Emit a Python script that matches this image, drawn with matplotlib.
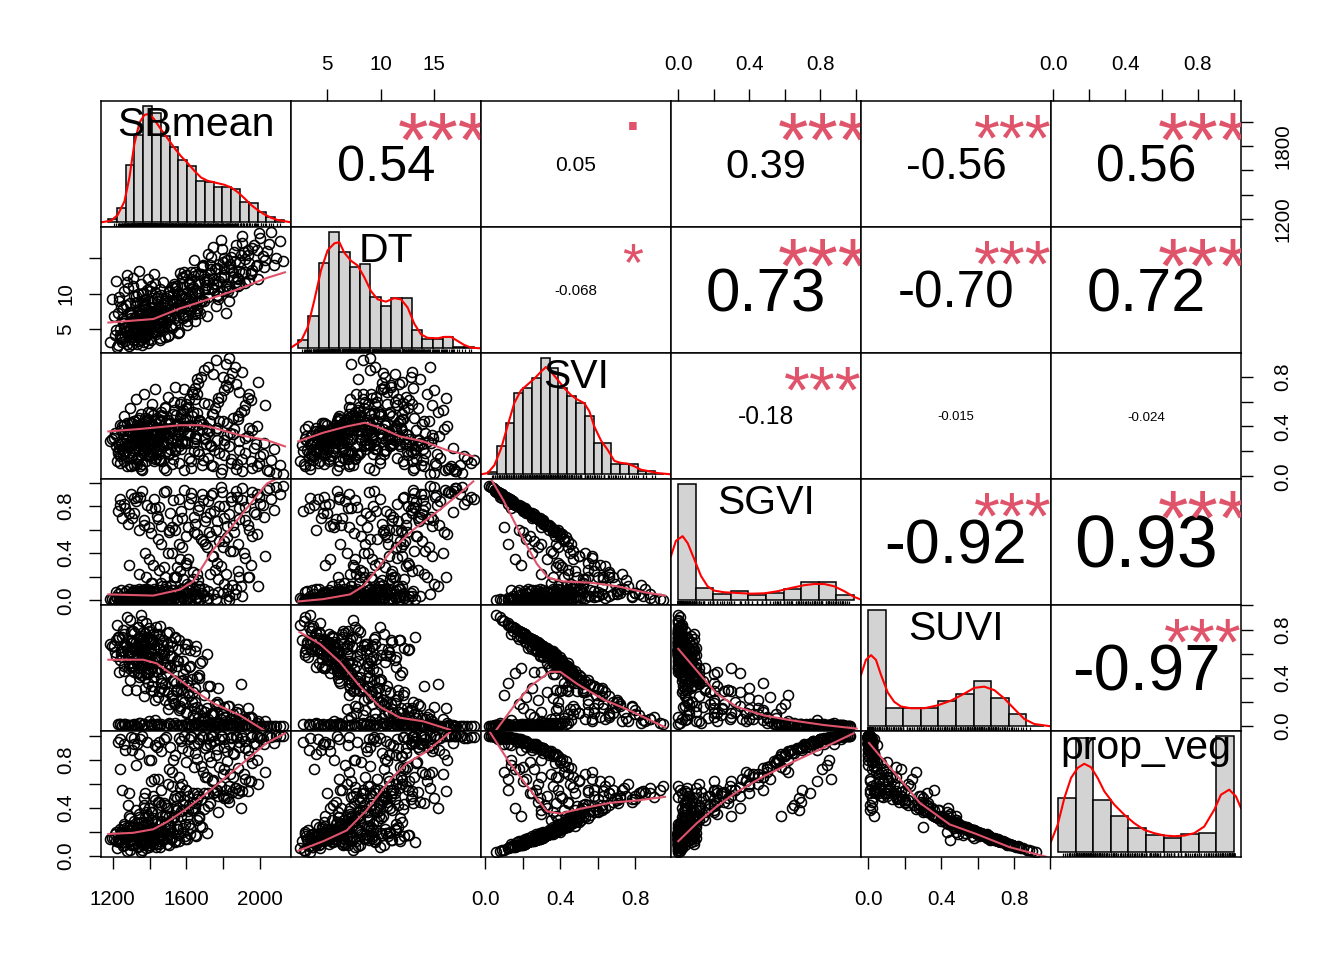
import numpy as np
import matplotlib
matplotlib.use("Agg")
import matplotlib.pyplot as plt
from matplotlib.textpath import TextPath
from matplotlib.font_manager import FontProperties

plt.rcParams['font.family'] = ['Liberation Sans', 'DejaVu Sans']

var_names = ['SBmean', 'DT', 'SVI', 'SGVI', 'SUVI', 'prop_veg']

# observaciones (una fila = un sitio), leidas a ojo de las nubes de puntos
SBmean = [1185, 1210, 1225, 1240, 1250, 1262, 1270, 1278, 1285, 1292,
          1300, 1305, 1312, 1318, 1322, 1328, 1333, 1338, 1342, 1346,
          1350, 1354, 1357, 1360, 1364, 1367, 1370, 1373, 1376, 1379,
          1382, 1386, 1390, 1394, 1398, 1402, 1406, 1411, 1416, 1421,
          1426, 1431, 1437, 1443, 1449, 1455, 1462, 1469, 1476, 1483,
          1490, 1498, 1506, 1514, 1523, 1532, 1541, 1550, 1560, 1570,
          1581, 1593, 1605, 1618, 1632, 1646, 1661, 1677, 1694, 1712, 1235, 1275,
          1262, 1305, 1348, 1395, 1452, 1488, 1512, 1537, 1558, 1575,
          1596, 1614, 1628, 1645, 1662, 1678, 1693, 1708, 1722, 1737,
          1751, 1765, 1779, 1792, 1806, 1819, 1833, 1846, 1860, 1874,
          1889, 1903, 1918, 1934, 1950, 1967, 1985, 2003, 2022, 2042,
          2063, 2086, 2110, 2128, 1430, 1228, 1318,
          1342, 1378, 1415, 1447, 1480, 1508, 1545, 1578, 1610, 1640, 1672,
          1702, 1735, 1770, 1805, 1840, 1880, 1398, 1462, 1290, 1525,
          1720, 1760, 1798, 1835, 1870, 1905, 1660, 1585, 1940, 1990, 1815, 1745,
          1205, 1232, 1248, 1257, 1266, 1281, 1288, 1296, 1303, 1309,
          1315, 1320, 1326, 1331, 1336, 1340, 1344, 1348, 1352, 1355,
          1358, 1362, 1365, 1368, 1371, 1374, 1377, 1380, 1384, 1388,
          1392, 1396, 1400, 1404, 1409, 1413, 1418, 1423, 1428, 1434,
          1440, 1446, 1452, 1459, 1466, 1473, 1480, 1487, 1495, 1503,
          1511, 1519, 1528, 1537, 1547, 1557, 1568, 1580, 1592, 1606,
          1620, 1636, 1652, 1669, 1687, 1256, 1298, 1334, 1366, 1410,
          1240, 1288, 1330, 1372, 1410, 1445, 1478, 1505, 1530, 1552,
          1572, 1590, 1608, 1624, 1641, 1657, 1672, 1686, 1700, 1716,
          1731, 1747, 1762, 1777, 1791, 1808, 1824, 1841, 1857, 1872,
          1887, 1904, 1921, 1940, 1958, 1978, 1998, 2020, 2048, 2075,
          1420, 1465, 1498, 1535, 1563, 1598, 1630, 1660, 1690, 1718,
          1745, 1772, 1800, 1828, 1856, 1885, 1915, 1950, 1985, 2030,
          1380, 1450, 1515, 1580, 1645,
          1215, 1229, 1244, 1259, 1273, 1286, 1297, 1307, 1316, 1324,
          1332, 1339, 1345, 1351, 1356, 1361, 1366, 1372, 1378, 1385,
          1391, 1397, 1403, 1410, 1417, 1425, 1433, 1442, 1451, 1461,
          1471, 1482, 1494, 1507, 1521, 1536, 1553, 1571, 1591, 1614,
          1520, 1548, 1566, 1583, 1601, 1617, 1634, 1650, 1666, 1681,
          1697, 1712, 1727, 1742, 1757, 1773, 1788, 1803, 1818, 1834,
          1850, 1866, 1882, 1899, 1917, 1936, 1956, 1490, 1545, 1611,
          1238, 1252, 1268, 1283, 1299, 1313, 1327, 1341, 1357, 1372, 1389, 1406, 1424, 1443, 1463,
          1195, 1218, 1246, 1263, 1279, 1294, 1310, 1327, 1343, 1359, 1375, 1393, 1412, 1432, 1455]
DT = [3.1, 4.2, 2.4, 5.0, 3.8, 6.1, 4.6, 2.9, 5.4, 7.2,
      4.0, 5.8, 3.5, 6.6, 4.9, 8.3, 5.2, 3.3, 6.0, 4.4,
      5.6, 7.0, 2.8, 5.1, 6.3, 4.7, 9.1, 5.5, 3.9, 6.8,
      5.3, 4.1, 7.6, 5.9, 3.6, 6.4, 5.0, 8.8, 4.5, 6.2,
      5.7, 10.2, 4.3, 6.9, 5.4, 3.7, 7.4, 6.0, 4.8, 8.0,
      5.8, 9.6, 4.2, 6.7, 5.1, 7.9, 11.0, 6.3, 4.6, 8.5,
      6.5, 9.3, 5.5, 7.7, 10.6, 6.1, 8.9, 7.3, 12.1, 6.8, 8.9, 11.6,
      5.2, 4.4, 6.1, 5.6, 7.8, 9.4, 8.6, 10.8, 9.9, 12.4,
      8.2, 11.5, 13.1, 10.1, 12.8, 9.0, 14.0, 11.2, 12.0, 15.2,
      10.5, 13.6, 11.8, 16.3, 12.6, 14.8, 10.9, 13.3, 15.9, 12.2,
      14.4, 17.1, 13.0, 15.5, 12.9, 16.8, 14.1, 17.8, 13.7, 16.0,
      18.7, 15.0, 17.4, 14.6, 6.9, 2.7, 3.4,
      7.1, 8.4, 6.6, 9.7, 7.5, 10.3, 8.1, 11.4, 9.2, 12.5, 8.7,
      10.7, 13.4, 9.8, 12.3, 14.2, 11.1, 5.3, 6.2, 4.8, 7.0,
      9.5, 8.3, 10.4, 9.0, 11.7, 12.9, 7.9, 10.0, 14.3, 12.0, 7.2, 11.3,
      6.8, 9.5, 3.2, 7.9, 5.3, 10.8, 2.6, 7.4, 4.5, 12.2,
      3.9, 8.6, 5.7, 2.9, 9.9, 6.2, 4.1, 7.7, 3.4, 11.3,
      6.6, 4.8, 8.1, 5.0, 3.7, 9.2, 6.0, 4.3, 7.1, 5.5,
      3.0, 6.9, 10.4, 5.2, 8.0, 4.6, 6.4, 12.7, 5.9, 7.6,
      4.9, 9.0, 6.3, 3.5, 7.2, 11.7, 5.4, 8.4, 6.7, 4.0,
      7.8, 5.6, 10.0, 6.5, 8.9, 4.4, 12.9, 7.0, 9.5, 6.1,
      8.2, 10.9, 7.3, 11.8, 9.1, 5.9, 7.0, 8.8, 10.1, 11.0,
      3.8, 5.0, 4.7, 6.3, 7.2, 5.8, 8.9, 10.2, 7.6, 11.1,
      9.6, 13.0, 8.7, 12.1, 14.7, 10.4, 9.3, 13.8, 11.6, 15.6,
      12.9, 16.6, 11.4, 14.2, 17.6, 13.5, 10.6, 15.1, 12.4, 16.9,
      13.2, 18.1, 14.9, 11.9, 16.4, 13.9, 18.5, 15.3, 17.0, 14.0,
      7.4, 9.8, 6.8, 11.3, 8.5, 12.6, 9.9, 7.7, 13.9, 10.6,
      12.0, 9.2, 14.5, 10.3, 13.1, 11.2, 15.8, 12.7, 16.2, 14.8,
      6.0, 8.1, 5.4, 9.4, 7.1,
      4.9, 7.3, 3.6, 5.8, 8.4, 4.2, 6.5, 2.9, 9.7, 5.1,
      6.9, 3.8, 7.8, 5.4, 4.4, 8.9, 6.2, 3.1, 5.7, 10.5,
      4.7, 7.1, 5.9, 3.4, 8.1, 6.6, 4.5, 9.3, 5.2, 7.5,
      6.0, 3.9, 8.7, 6.4, 10.9, 5.5, 7.9, 9.8, 6.8, 11.4,
      8.8, 10.4, 7.6, 12.2, 9.5, 11.6, 8.3, 13.0, 10.1, 12.8,
      9.0, 11.9, 14.1, 10.8, 13.5, 9.7, 12.4, 15.0, 11.0, 13.7,
      10.2, 14.6, 12.1, 15.4, 11.5, 16.1, 13.3, 7.2, 9.1, 7.0,
      4.1, 6.4, 3.3, 5.5, 7.0, 4.6, 6.7, 3.9, 5.9, 8.2, 4.8, 7.5, 6.1, 9.0, 5.3,
      9.2, 11.8, 8.1, 10.3, 12.6, 8.7, 11.1, 9.6, 13.2, 10.0, 8.5, 12.0, 9.4, 11.4, 10.7]
SVI = [0.28, 0.35, 0.12, 0.41, 0.22, 0.48, 0.30, 0.08, 0.38, 0.55,
       0.26, 0.33, 0.18, 0.44, 0.31, 0.62, 0.36, 0.15, 0.40, 0.27,
       0.34, 0.50, 0.10, 0.29, 0.37, 0.24, 0.66, 0.32, 0.20, 0.45,
       0.35, 0.23, 0.52, 0.39, 0.16, 0.42, 0.30, 0.58, 0.28, 0.36,
       0.33, 0.70, 0.21, 0.47, 0.31, 0.13, 0.49, 0.38, 0.25, 0.56,
       0.34, 0.64, 0.19, 0.43, 0.29, 0.53, 0.72, 0.40, 0.24, 0.60,
       0.37, 0.46, 0.27, 0.41, 0.68, 0.32, 0.51, 0.44, 0.59, 0.35, 0.26, 0.43,
       0.12, 0.25, 0.08, 0.30, 0.18, 0.05, 0.22, 0.34, 0.11, 0.27,
       0.40, 0.15, 0.07, 0.31, 0.20, 0.42, 0.13, 0.26, 0.36, 0.09,
       0.21, 0.29, 0.44, 0.06, 0.17, 0.33, 0.24, 0.14, 0.38, 0.10,
       0.28, 0.04, 0.19, 0.32, 0.12, 0.23, 0.08, 0.16, 0.27, 0.05,
       0.13, 0.03, 0.09, 0.02, 0.14, 0.20, 0.09,
       0.30, 0.25, 0.35, 0.22, 0.38, 0.18, 0.42, 0.28, 0.33, 0.20, 0.45,
       0.30, 0.24, 0.39, 0.26, 0.35, 0.48, 0.16, 0.12, 0.19, 0.10,
       0.88, 0.93, 0.80, 0.95, 0.74, 0.84, 0.78, 0.70, 0.66, 0.76, 0.90, 0.82,
       0.31, 0.22, 0.40, 0.17, 0.27, 0.36, 0.25, 0.09, 0.43, 0.30,
       0.20, 0.34, 0.29, 0.38, 0.14, 0.45, 0.33, 0.24, 0.06, 0.39,
       0.28, 0.42, 0.19, 0.35, 0.26, 0.31, 0.47, 0.12, 0.37, 0.23,
       0.32, 0.18, 0.41, 0.27, 0.52, 0.36, 0.21, 0.30, 0.44, 0.15,
       0.29, 0.39, 0.24, 0.33, 0.48, 0.26, 0.35, 0.55, 0.20, 0.31,
       0.37, 0.27, 0.50, 0.22, 0.42, 0.33, 0.58, 0.40, 0.28, 0.46,
       0.34, 0.52, 0.30, 0.44, 0.38, 0.36, 0.28, 0.41, 0.33, 0.25,
       0.16, 0.24, 0.10, 0.33, 0.20, 0.28, 0.07, 0.38, 0.14, 0.30,
       0.22, 0.05, 0.35, 0.12, 0.27, 0.41, 0.18, 0.09, 0.31, 0.15,
       0.25, 0.08, 0.37, 0.19, 0.03, 0.29, 0.43, 0.11, 0.34, 0.06,
       0.21, 0.14, 0.31, 0.39, 0.07, 0.26, 0.11, 0.18, 0.04, 0.22,
       0.40, 0.52, 0.45, 0.60, 0.38, 0.55, 0.48, 0.66, 0.42, 0.58,
       0.50, 0.63, 0.44, 0.72, 0.47, 0.68, 0.53, 0.61, 0.40, 0.57,
       0.36, 0.44, 0.39, 0.51, 0.62,
       0.33, 0.19, 0.27, 0.41, 0.24, 0.36, 0.15, 0.30, 0.44, 0.22,
       0.38, 0.28, 0.47, 0.17, 0.32, 0.25, 0.40, 0.21, 0.35, 0.29,
       0.43, 0.18, 0.31, 0.26, 0.49, 0.23, 0.37, 0.34, 0.14, 0.45,
       0.28, 0.39, 0.26, 0.42, 0.31, 0.20, 0.36, 0.50, 0.27, 0.40,
       0.36, 0.41, 0.47, 0.53, 0.58, 0.62, 0.66, 0.71, 0.75, 0.80,
       0.85, 0.39, 0.44, 0.50, 0.55, 0.60, 0.64, 0.69, 0.73, 0.78,
       0.83, 0.88, 0.46, 0.52, 0.57, 0.63, 0.37, 0.43, 0.49, 0.56,
       0.11, 0.27, 0.19, 0.32, 0.08, 0.23, 0.14, 0.36, 0.05, 0.29, 0.17, 0.40, 0.12, 0.25, 0.34,
       0.30, 0.24, 0.37, 0.20, 0.33, 0.43, 0.27, 0.39, 0.22, 0.35, 0.29, 0.46, 0.25, 0.38, 0.32]
SGVI = [0.01, 0.00, 0.02, 0.01, 0.00, 0.03, 0.00, 0.01, 0.02, 0.04,
        0.00, 0.01, 0.00, 0.02, 0.01, 0.05, 0.00, 0.01, 0.00, 0.02,
        0.01, 0.03, 0.00, 0.00, 0.02, 0.01, 0.04, 0.00, 0.00, 0.01,
        0.02, 0.00, 0.06, 0.01, 0.00, 0.02, 0.00, 0.03, 0.01, 0.00,
        0.02, 0.05, 0.00, 0.01, 0.00, 0.01, 0.03, 0.00, 0.02, 0.04,
        0.00, 0.02, 0.01, 0.00, 0.03, 0.02, 0.06, 0.00, 0.01, 0.04,
        0.02, 0.00, 0.01, 0.03, 0.05, 0.00, 0.02, 0.01, 0.04, 0.00, 0.00, 0.03,
        0.82, 0.70, 0.88, 0.62, 0.79, 0.93, 0.74, 0.60, 0.86, 0.70,
        0.55, 0.82, 0.91, 0.65, 0.77, 0.52, 0.85, 0.71, 0.58, 0.89,
        0.76, 0.67, 0.50, 0.92, 0.80, 0.63, 0.73, 0.84, 0.58, 0.88,
        0.69, 0.95, 0.79, 0.64, 0.86, 0.75, 0.90, 0.82, 0.71, 0.94,
        0.86, 0.96, 0.90, 0.97, 0.78, 0.76, 0.87,
        0.22, 0.40, 0.15, 0.52, 0.28, 0.60, 0.20, 0.45, 0.35, 0.58, 0.12,
        0.48, 0.55, 0.32, 0.50, 0.42, 0.25, 0.35, 0.48, 0.30, 0.62,
        0.02, 0.01, 0.06, 0.00, 0.10, 0.04, 0.03, 0.08, 0.20, 0.12, 0.00, 0.05,
        0.00, 0.02, 0.01, 0.00, 0.03, 0.00, 0.01, 0.00, 0.06, 0.02,
        0.01, 0.00, 0.04, 0.00, 0.02, 0.08, 0.00, 0.01, 0.00, 0.03,
        0.00, 0.05, 0.01, 0.00, 0.02, 0.00, 0.10, 0.00, 0.01, 0.00,
        0.01, 0.00, 0.03, 0.00, 0.15, 0.02, 0.00, 0.04, 0.07, 0.01,
        0.00, 0.02, 0.01, 0.00, 0.12, 0.00, 0.03, 0.20, 0.00, 0.02,
        0.01, 0.00, 0.09, 0.02, 0.05, 0.00, 0.25, 0.03, 0.01, 0.14,
        0.00, 0.18, 0.02, 0.10, 0.06, 0.00, 0.01, 0.04, 0.00, 0.02,
        0.81, 0.74, 0.88, 0.64, 0.78, 0.69, 0.92, 0.58, 0.85, 0.68,
        0.76, 0.94, 0.62, 0.87, 0.71, 0.56, 0.80, 0.90, 0.67, 0.84,
        0.74, 0.91, 0.60, 0.80, 0.96, 0.70, 0.54, 0.88, 0.64, 0.93,
        0.78, 0.85, 0.68, 0.60, 0.92, 0.73, 0.88, 0.81, 0.95, 0.77,
        0.30, 0.15, 0.40, 0.20, 0.48, 0.32, 0.12, 0.22, 0.50, 0.08,
        0.38, 0.18, 0.45, 0.10, 0.42, 0.20, 0.40, 0.30, 0.56, 0.38,
        0.20, 0.26, 0.12, 0.10, 0.05,
        0.07, 0.05, 0.09, 0.06, 0.08, 0.10, 0.04, 0.07, 0.09, 0.06,
        0.08, 0.05, 0.10, 0.07, 0.04, 0.09, 0.06, 0.08, 0.05, 0.10,
        0.07, 0.09, 0.06, 0.04, 0.08, 0.10, 0.05, 0.07, 0.09, 0.06,
        0.08, 0.10, 0.04, 0.07, 0.09, 0.05, 0.08, 0.10, 0.06, 0.09,
        0.40, 0.28, 0.35, 0.18, 0.30, 0.12, 0.24, 0.08, 0.17, 0.06,
        0.10, 0.45, 0.22, 0.38, 0.26, 0.07, 0.29, 0.14, 0.22, 0.04,
        0.13, 0.05, 0.48, 0.12, 0.36, 0.20, 0.55, 0.12, 0.20, 0.09,
        0.86, 0.70, 0.78, 0.65, 0.90, 0.74, 0.84, 0.60, 0.93, 0.68, 0.81, 0.57, 0.86, 0.72, 0.63,
        0.01, 0.03, 0.00, 0.02, 0.01, 0.04, 0.00, 0.02, 0.01, 0.03, 0.00, 0.05, 0.01, 0.02, 0.00]
SUVI = [0.68, 0.61, 0.84, 0.55, 0.74, 0.46, 0.66, 0.90, 0.57, 0.38,
        0.71, 0.52, 0.79, 0.50, 0.64, 0.30, 0.60, 0.82, 0.48, 0.69,
        0.62, 0.42, 0.87, 0.58, 0.56, 0.72, 0.25, 0.63, 0.77, 0.44,
        0.59, 0.73, 0.36, 0.54, 0.81, 0.47, 0.61, 0.33, 0.70, 0.53,
        0.65, 0.22, 0.76, 0.45, 0.57, 0.83, 0.40, 0.60, 0.67, 0.35,
        0.49, 0.28, 0.78, 0.51, 0.66, 0.37, 0.18, 0.55, 0.71, 0.31,
        0.43, 0.47, 0.68, 0.50, 0.20, 0.62, 0.41, 0.52, 0.26, 0.60, 0.45, 0.30,
        0.02, 0.01, 0.03, 0.04, 0.00, 0.01, 0.02, 0.03, 0.00, 0.01,
        0.02, 0.00, 0.01, 0.03, 0.00, 0.04, 0.01, 0.00, 0.02, 0.00,
        0.01, 0.00, 0.03, 0.01, 0.00, 0.02, 0.00, 0.01, 0.00, 0.00,
        0.02, 0.00, 0.01, 0.00, 0.00, 0.01, 0.00, 0.00, 0.00, 0.00,
        0.00, 0.00, 0.00, 0.00, 0.05, 0.02, 0.01,
        0.45, 0.32, 0.48, 0.24, 0.30, 0.18, 0.36, 0.22, 0.28, 0.15, 0.40,
        0.12, 0.10, 0.20, 0.08, 0.06, 0.14, 0.44, 0.36, 0.48, 0.26,
        0.06, 0.03, 0.10, 0.02, 0.12, 0.05, 0.16, 0.20, 0.08, 0.04, 0.08, 0.09,
        0.66, 0.74, 0.57, 0.80, 0.68, 0.61, 0.71, 0.88, 0.49, 0.65,
        0.77, 0.63, 0.65, 0.59, 0.82, 0.44, 0.64, 0.73, 0.92, 0.55,
        0.69, 0.50, 0.78, 0.62, 0.70, 0.66, 0.40, 0.85, 0.59, 0.74,
        0.64, 0.79, 0.53, 0.70, 0.30, 0.60, 0.76, 0.64, 0.46, 0.82,
        0.68, 0.56, 0.72, 0.64, 0.36, 0.71, 0.59, 0.22, 0.77, 0.63,
        0.58, 0.70, 0.38, 0.74, 0.50, 0.64, 0.15, 0.54, 0.68, 0.37,
        0.63, 0.28, 0.66, 0.42, 0.54, 0.62, 0.69, 0.52, 0.64, 0.71,
        0.02, 0.01, 0.00, 0.02, 0.01, 0.02, 0.00, 0.03, 0.00, 0.01,
        0.01, 0.00, 0.02, 0.00, 0.01, 0.03, 0.01, 0.00, 0.01, 0.00,
        0.00, 0.01, 0.02, 0.00, 0.00, 0.01, 0.02, 0.00, 0.01, 0.00,
        0.00, 0.00, 0.01, 0.00, 0.00, 0.00, 0.00, 0.00, 0.00, 0.00,
        0.29, 0.32, 0.14, 0.19, 0.13, 0.12, 0.39, 0.11, 0.07, 0.33,
        0.11, 0.18, 0.10, 0.17, 0.10, 0.11, 0.06, 0.08, 0.03, 0.04,
        0.43, 0.29, 0.48, 0.38, 0.32,
        0.58, 0.74, 0.62, 0.50, 0.66, 0.52, 0.79, 0.61, 0.45, 0.70,
        0.52, 0.66, 0.41, 0.75, 0.63, 0.64, 0.53, 0.70, 0.58, 0.59,
        0.48, 0.72, 0.61, 0.69, 0.41, 0.65, 0.56, 0.57, 0.76, 0.47,
        0.62, 0.49, 0.68, 0.49, 0.58, 0.73, 0.54, 0.37, 0.64, 0.49,
        0.23, 0.30, 0.17, 0.28, 0.11, 0.25, 0.09, 0.20, 0.07, 0.13,
        0.04, 0.15, 0.33, 0.11, 0.18, 0.32, 0.06, 0.16, 0.04, 0.17,
        0.03, 0.06, 0.05, 0.35, 0.06, 0.15, 0.07, 0.44, 0.29, 0.34,
        0.02, 0.01, 0.02, 0.01, 0.01, 0.02, 0.00, 0.03, 0.01, 0.02, 0.00, 0.02, 0.01, 0.02, 0.02,
        0.66, 0.71, 0.60, 0.76, 0.63, 0.50, 0.70, 0.56, 0.74, 0.59, 0.68, 0.45, 0.72, 0.57, 0.64]
prop_veg = [0.14, 0.18, 0.06, 0.22, 0.11, 0.25, 0.15, 0.04, 0.21, 0.31,
            0.12, 0.17, 0.09, 0.24, 0.16, 0.38, 0.19, 0.08, 0.20, 0.13,
            0.18, 0.28, 0.05, 0.15, 0.20, 0.12, 0.42, 0.17, 0.10, 0.26,
            0.19, 0.11, 0.33, 0.21, 0.07, 0.23, 0.16, 0.36, 0.14, 0.19,
            0.18, 0.46, 0.10, 0.27, 0.16, 0.07, 0.29, 0.20, 0.13, 0.34,
            0.18, 0.40, 0.09, 0.24, 0.15, 0.32, 0.50, 0.22, 0.12, 0.37,
            0.20, 0.26, 0.14, 0.23, 0.45, 0.17, 0.30, 0.25, 0.39, 0.19, 0.13, 0.24,
            0.93, 0.88, 0.97, 0.80, 0.95, 0.99, 0.91, 0.84, 0.98, 0.90,
            0.78, 0.97, 1.00, 0.86, 0.94, 0.75, 0.99, 0.92, 0.83, 1.00,
            0.96, 0.89, 0.74, 1.00, 0.97, 0.87, 0.93, 0.98, 0.85, 0.99,
            0.91, 1.00, 0.96, 0.88, 0.99, 0.94, 1.00, 0.98, 0.93, 1.00,
            0.99, 1.00, 1.00, 1.00, 0.92, 0.95, 0.98,
            0.35, 0.52, 0.30, 0.64, 0.44, 0.72, 0.38, 0.60, 0.50, 0.74, 0.33,
            0.66, 0.78, 0.55, 0.72, 0.68, 0.52, 0.40, 0.55, 0.33, 0.70,
            0.52, 0.55, 0.50, 0.58, 0.56, 0.54, 0.47, 0.46, 0.62, 0.60, 0.49, 0.52,
            0.15, 0.11, 0.21, 0.08, 0.14, 0.19, 0.12, 0.05, 0.24, 0.16,
            0.10, 0.18, 0.17, 0.20, 0.07, 0.27, 0.17, 0.12, 0.03, 0.22,
            0.14, 0.25, 0.09, 0.19, 0.13, 0.16, 0.32, 0.06, 0.20, 0.11,
            0.16, 0.09, 0.22, 0.14, 0.36, 0.19, 0.10, 0.17, 0.28, 0.07,
            0.14, 0.21, 0.12, 0.17, 0.33, 0.14, 0.19, 0.42, 0.10, 0.17,
            0.21, 0.14, 0.31, 0.11, 0.25, 0.17, 0.50, 0.23, 0.14, 0.32,
            0.18, 0.40, 0.16, 0.31, 0.24, 0.18, 0.14, 0.23, 0.17, 0.13,
            0.72, 0.52, 0.93, 0.40, 0.62, 0.45, 0.97, 0.33, 0.80, 0.38,
            0.96, 1.00, 0.87, 0.99, 0.92, 0.81, 0.97, 1.00, 0.90, 0.98,
            0.93, 1.00, 0.84, 0.97, 1.00, 0.91, 0.79, 0.99, 0.86, 1.00,
            0.95, 0.98, 0.90, 0.83, 1.00, 0.93, 0.99, 0.97, 1.00, 0.94,
            0.50, 0.42, 0.60, 0.47, 0.66, 0.55, 0.38, 0.52, 0.70, 0.41,
            0.63, 0.50, 0.68, 0.48, 0.66, 0.55, 0.68, 0.62, 0.80, 0.70,
            0.36, 0.45, 0.30, 0.38, 0.40,
            0.20, 0.12, 0.18, 0.26, 0.15, 0.24, 0.09, 0.18, 0.29, 0.13,
            0.23, 0.16, 0.32, 0.11, 0.18, 0.16, 0.24, 0.14, 0.21, 0.19,
            0.28, 0.12, 0.19, 0.15, 0.31, 0.15, 0.22, 0.21, 0.10, 0.28,
            0.17, 0.26, 0.15, 0.26, 0.20, 0.12, 0.22, 0.33, 0.16, 0.26,
            0.58, 0.48, 0.57, 0.43, 0.55, 0.42, 0.52, 0.44, 0.50, 0.47,
            0.52, 0.66, 0.44, 0.62, 0.53, 0.36, 0.58, 0.48, 0.55, 0.45,
            0.53, 0.56, 0.73, 0.40, 0.64, 0.54, 0.77, 0.33, 0.41, 0.37,
            0.97, 0.55, 0.88, 0.42, 0.99, 0.93, 0.76, 0.85, 1.00, 0.48, 0.95, 0.80, 0.64, 0.91, 0.87,
            0.15, 0.12, 0.20, 0.09, 0.17, 0.25, 0.13, 0.21, 0.11, 0.19, 0.14, 0.28, 0.12, 0.21, 0.16]

# histogramas: inicio, ancho de clase y altura relativa de cada barra
hist_start = [1150, 2, 0, 0, 0, 0]
hist_width = [50, 1, 0.05, 0.1, 0.1, 0.1]
hist_SBmean = [0.029, 0.121, 0.494, 0.75, 1.0, 0.94, 0.739, 0.649, 0.534, 0.48,
               0.351, 0.345, 0.299, 0.299, 0.287, 0.172, 0.164, 0.092, 0.049, 0.023]
hist_DT = [0.07, 0.28, 0.73, 1.0, 0.83, 0.70, 0.72, 0.44, 0.36, 0.43, 0.43,
           0.16, 0.08, 0.08, 0.10, 0.01, 0.01]
hist_SVI = [0.02, 0.24, 0.44, 0.70, 0.74, 0.83, 1.0, 0.91, 0.74, 0.67,
            0.61, 0.50, 0.27, 0.27, 0.09, 0.09, 0.09, 0.03, 0.03, 0.005]
hist_SGVI = [1.0, 0.106, 0.055, 0.078, 0.043, 0.063, 0.098, 0.155, 0.155, 0.043]
hist_SUVI = [1.0, 0.155, 0.155, 0.155, 0.22, 0.276, 0.385, 0.247, 0.106, 0.005]
hist_prop_veg = [0.47, 0.98, 0.45, 0.31, 0.21, 0.15, 0.126, 0.155, 0.17, 1.0]

# curvas de densidad (misma escala que las barras)
dens_SBmean_x = [1110, 1167, 1205, 1243, 1271, 1299, 1328, 1356, 1385, 1413,
                 1451, 1489, 1527, 1565, 1602, 1640, 1678, 1716, 1763, 1811,
                 1849, 1887, 1925, 1963, 2000, 2038, 2076, 2114, 2190]
dens_SBmean_y = [0, 0.014, 0.063, 0.178, 0.379, 0.667, 0.853, 0.92, 0.931, 0.882,
                 0.796, 0.718, 0.638, 0.566, 0.509, 0.443, 0.385, 0.356, 0.339, 0.322,
                 0.299, 0.259, 0.207, 0.149, 0.106, 0.069, 0.04, 0.02, 0]
dens_DT_x = [1.32, 2.29, 2.93, 3.57, 4.22, 4.86, 5.51, 5.99, 6.47, 7.12,
             7.76, 8.40, 9.05, 9.69, 10.5, 11.3, 11.95, 12.59, 13.24, 13.88,
             14.52, 15.49, 16.13, 16.78, 17.42, 18.06, 18.71, 19.68]
dens_DT_y = [0.006, 0.063, 0.18, 0.41, 0.67, 0.84, 0.90, 0.91, 0.82, 0.75,
             0.71, 0.61, 0.49, 0.42, 0.40, 0.43, 0.42, 0.35, 0.21, 0.12,
             0.09, 0.086, 0.098, 0.098, 0.063, 0.029, 0.006, 0]
dens_SVI_x = [-0.04, -0.002, 0.036, 0.074, 0.112, 0.149, 0.187, 0.225, 0.263, 0.301,
              0.329, 0.358, 0.396, 0.433, 0.471, 0.509, 0.547, 0.576, 0.604, 0.642,
              0.680, 0.718, 0.755, 0.793, 0.831, 0.869, 0.907, 0.964, 1.04]
dens_SVI_y = [0, 0.011, 0.078, 0.22, 0.42, 0.61, 0.72, 0.77, 0.82, 0.88,
              0.92, 0.88, 0.81, 0.74, 0.68, 0.64, 0.61, 0.54, 0.41, 0.29,
              0.21, 0.115, 0.098, 0.092, 0.069, 0.04, 0.029, 0.011, 0]
dens_SGVI_x = [-0.04, -0.012, 0.026, 0.055, 0.093, 0.130, 0.168, 0.206, 0.263, 0.339,
               0.415, 0.490, 0.566, 0.642, 0.718, 0.774, 0.831, 0.888, 0.945, 1.002, 1.04]
dens_SGVI_y = [0.38, 0.51, 0.55, 0.49, 0.35, 0.21, 0.12, 0.083, 0.069, 0.063,
               0.057, 0.06, 0.078, 0.106, 0.13, 0.14, 0.14, 0.12, 0.078, 0.029, 0.006]
dens_SUVI_x = [-0.04, -0.012, 0.017, 0.045, 0.074, 0.112, 0.149, 0.187, 0.244, 0.320,
               0.396, 0.471, 0.547, 0.604, 0.661, 0.718, 0.774, 0.831, 0.888, 0.945, 1.04]
dens_SUVI_y = [0.44, 0.57, 0.61, 0.57, 0.44, 0.29, 0.21, 0.17, 0.155, 0.155,
               0.18, 0.22, 0.28, 0.33, 0.34, 0.31, 0.24, 0.15, 0.063, 0.02, 0]
dens_prop_veg_x = [-0.04, -0.002, 0.036, 0.074, 0.112, 0.149, 0.187, 0.225, 0.263, 0.320,
                   0.377, 0.433, 0.490, 0.547, 0.604, 0.661, 0.718, 0.774, 0.831, 0.888,
                   0.926, 0.973, 1.011, 1.04]
dens_prop_veg_y = [0.092, 0.236, 0.466, 0.638, 0.724, 0.759, 0.73, 0.638, 0.523, 0.408,
                   0.322, 0.25, 0.193, 0.164, 0.144, 0.138, 0.144, 0.164, 0.221, 0.365,
                   0.494, 0.537, 0.48, 0.379]

# correlaciones (triangulo superior, fila por fila) y significancia
cor_text = ['0.54', '0.05', '0.39', '-0.56', '0.56',
            '-0.068', '0.73', '-0.70', '0.72',
            '-0.18', '-0.015', '-0.024',
            '-0.92', '0.93',
            '-0.97']
cor_stars = ['***', '.', '***', '***', '***',
             '*', '***', '***', '***',
             '***', '', '',
             '***', '***',
             '***']

# suavizados (x, y) de los paneles inferiores
sm_DT_SBmean = [(1176, 5.9), (1421, 6.4), (1566, 7.9), (1711, 9.1), (1892, 10.7), (2038, 12.2), (2137, 13.0)]
sm_SVI_SBmean = [(1176, 0.36), (1348, 0.38), (1566, 0.41), (1675, 0.41), (1747, 0.39), (1892, 0.33), (2038, 0.29), (2137, 0.24)]
sm_SGVI_SBmean = [(1176, 0.05), (1421, 0.04), (1566, 0.09), (1638, 0.16), (1747, 0.43), (1892, 0.71), (2038, 0.99), (2125, 1.06)]
sm_SUVI_SBmean = [(1176, 0.55), (1366, 0.55), (1439, 0.52), (1530, 0.42), (1638, 0.30), (1747, 0.19), (1892, 0.09), (2019, -0.03)]
sm_prop_veg_SBmean = [(1176, 0.18), (1312, 0.19), (1421, 0.22), (1494, 0.28), (1602, 0.39), (1711, 0.52), (1820, 0.66), (1929, 0.80), (2038, 0.94), (2137, 1.02)]
sm_SVI_DT = [(2.28, 0.28), (4.63, 0.35), (6.82, 0.40), (8.53, 0.43), (9.94, 0.39), (11.81, 0.32), (14.0, 0.28), (16.19, 0.21), (18.68, 0.16)]
sm_SGVI_DT = [(2.28, -0.01), (4.63, 0.01), (7.13, 0.05), (8.37, 0.12), (9.63, 0.26), (11.18, 0.44), (13.06, 0.60), (15.56, 0.77), (17.43, 0.91), (18.68, 1.01)]
sm_SUVI_DT = [(2.38, 0.78), (4.32, 0.68), (6.19, 0.53), (8.06, 0.33), (9.94, 0.16), (11.81, 0.07), (14.0, 0.04), (16.5, -0.03)]
sm_prop_veg_DT = [(2.28, 0.04), (4.63, 0.12), (6.82, 0.21), (8.69, 0.38), (10.87, 0.63), (12.44, 0.77), (14.31, 0.87), (16.5, 1.03)]
sm_SGVI_SVI = [(0.035, 1.02), (0.097, 0.85), (0.186, 0.57), (0.275, 0.31), (0.336, 0.19), (0.416, 0.16), (0.558, 0.15), (0.701, 0.12), (0.842, 0.07), (0.958, 0.04)]
sm_SUVI_SVI = [(0.06, -0.03), (0.15, 0.16), (0.24, 0.33), (0.345, 0.45), (0.40, 0.45), (0.49, 0.35), (0.63, 0.22), (0.77, 0.13), (0.96, -0.01)]
sm_prop_veg_SVI = [(0.026, 1.03), (0.132, 0.77), (0.239, 0.55), (0.328, 0.37), (0.399, 0.35), (0.505, 0.39), (0.665, 0.44), (0.807, 0.46), (0.958, 0.49)]
sm_SUVI_SGVI = [(0.001, 0.64), (0.105, 0.46), (0.217, 0.27), (0.33, 0.16), (0.48, 0.09), (0.63, 0.05), (0.818, 0.01), (1.006, -0.02)]
sm_prop_veg_SGVI = [(0.001, 0.12), (0.105, 0.27), (0.217, 0.41), (0.33, 0.53), (0.48, 0.66), (0.63, 0.77), (0.818, 0.90), (0.987, 1.02)]
sm_prop_veg_SUVI = [(0.004, 0.94), (0.082, 0.80), (0.173, 0.64), (0.283, 0.44), (0.374, 0.34), (0.447, 0.26), (0.593, 0.18), (0.776, 0.07), (0.976, -0.01)]

# rangos de ejes y marcas
lims = [(1136, 2170), (1.6, 19.4), (-0.022, 0.99), (-0.04, 1.03), (-0.04, 1.003), (-0.012, 1.04)]
ticks = [[1200, 1400, 1600, 1800, 2000], [5, 10, 15], [0, 0.2, 0.4, 0.6, 0.8],
         [0, 0.2, 0.4, 0.6, 0.8, 1.0], [0, 0.2, 0.4, 0.6, 0.8, 1.0], [0, 0.2, 0.4, 0.6, 0.8, 1.0]]
shown_bottom = {0: [1200, 1600, 2000], 2: [0, 0.4, 0.8], 4: [0, 0.4, 0.8]}
shown_top = {1: [5, 10, 15], 3: [0, 0.4, 0.8], 5: [0, 0.4, 0.8]}
shown_left = {1: [5, 10], 3: [0, 0.4, 0.8], 5: [0, 0.4, 0.8]}
shown_right = {0: [1200, 1800], 2: [0, 0.4, 0.8], 4: [0, 0.4, 0.8]}

cols = [SBmean, DT, SVI, SGVI, SUVI, prop_veg]
if len({len(c) for c in cols}) != 1:
    raise ValueError('columnas de distinto largo: %s' % [len(c) for c in cols])
data = [np.asarray(c, dtype=float) for c in cols]
hists = [hist_SBmean, hist_DT, hist_SVI, hist_SGVI, hist_SUVI, hist_prop_veg]
dens = [(dens_SBmean_x, dens_SBmean_y), (dens_DT_x, dens_DT_y), (dens_SVI_x, dens_SVI_y),
        (dens_SGVI_x, dens_SGVI_y), (dens_SUVI_x, dens_SUVI_y), (dens_prop_veg_x, dens_prop_veg_y)]
smooth = {(1, 0): sm_DT_SBmean, (2, 0): sm_SVI_SBmean, (3, 0): sm_SGVI_SBmean,
          (4, 0): sm_SUVI_SBmean, (5, 0): sm_prop_veg_SBmean,
          (2, 1): sm_SVI_DT, (3, 1): sm_SGVI_DT, (4, 1): sm_SUVI_DT, (5, 1): sm_prop_veg_DT,
          (3, 2): sm_SGVI_SVI, (4, 2): sm_SUVI_SVI, (5, 2): sm_prop_veg_SVI,
          (4, 3): sm_SUVI_SGVI, (5, 3): sm_prop_veg_SGVI, (5, 4): sm_prop_veg_SUVI}

RED2 = '#DF536B'
W, H = 1344, 960
X0, Y0, PW, PH = 101, 101, 190, 126
fp = FontProperties(family='Liberation Sans')


def ink_mid(s):
    bb = TextPath((0, 0), s, size=1, prop=fp).get_extents()
    return (bb.y0 + bb.y1) / 2


def adv(s):
    w = {'.': 0.278, '-': 0.333}
    return sum(w.get(c, 0.556) for c in s)


def put(ax, x, y, s, size, color='black'):
    # centra la tinta del texto en (x, y), como hace R
    ax.annotate(s, (x, y), xycoords='axes fraction',
                xytext=(0, -ink_mid(s) * size), textcoords='offset points',
                ha='center', va='baseline', fontsize=size, color=color,
                family='Liberation Sans', clip_on=True)


def fmt(v, k):
    if k < 2:
        return str(int(v))
    return '%.1f' % v


fig = plt.figure(figsize=(W / 100, H / 100), dpi=100)
fig.patch.set_facecolor('white')
tick_kw = dict(direction='out', length=8.6, width=1.0, labelsize=14.8, colors='black')
k_up = 0

for i in range(6):
    for j in range(6):
        ax = fig.add_axes([(X0 + j * PW) / W, 1 - (Y0 + (i + 1) * PH) / H, PW / W, PH / H])
        for sp in ax.spines.values():
            sp.set_linewidth(1.1)
        ax.set_xticks([])
        ax.set_yticks([])
        ax.set_xlim(lims[j])
        ax.set_ylim(lims[i])

        if i == j:
            s0, w = hist_start[i], hist_width[i]
            hs = hists[i]
            edges = s0 + w * np.arange(len(hs))
            span = w * len(hs)
            ax.set_xlim(s0 - 0.04 * span, s0 + span + 0.04 * span)
            ax.set_ylim(-0.04, 1.04)
            ax.bar(edges, hs, width=w, align='edge', color='#D3D3D3',
                   edgecolor='black', linewidth=1.1)
            ax.plot(dens[i][0], dens[i][1], color='red', lw=1.5)
            ax.vlines(data[i], 0, 0.035, transform=ax.get_xaxis_transform(),
                      color='black', lw=0.9)
            put(ax, 0.5, 0.833, var_names[i], 29.5)
        elif i > j:
            ax.plot(data[j], data[i], 'o', ms=7.2, mfc='none', mec='black', mew=1.15)
            sx, sy = zip(*smooth[(i, j)])
            ax.plot(sx, sy, color=RED2, lw=1.5)
        else:
            txt = cor_text[k_up]
            stars = cor_stars[k_up]
            k_up += 1
            base = 0.8 * PW / adv(txt) * 0.72
            r = abs(float(txt))
            put(ax, 0.5, 0.5, txt, base * (r + 0.3) / 1.3)
            if stars:
                put(ax, 0.8, 0.8, stars, base, color=RED2)

        # ejes exteriores, alternados como en pairs()
        if i == 0 and j in shown_top:
            ax.set_xticks(ticks[j])
            ax.set_xticklabels([fmt(t, j) if t in shown_top[j] else '' for t in ticks[j]])
            ax.tick_params(axis='x', top=True, labeltop=True, bottom=False,
                           labelbottom=False, pad=11.2, **tick_kw)
        if i == 5 and j in shown_bottom:
            ax.set_xticks(ticks[j])
            ax.set_xticklabels([fmt(t, j) if t in shown_bottom[j] else '' for t in ticks[j]])
            ax.tick_params(axis='x', bottom=True, labelbottom=True, pad=15.0, **tick_kw)
        if j == 0 and i in shown_left:
            ax.set_yticks(ticks[i])
            ax.set_yticklabels([fmt(t, i) if t in shown_left[i] else '' for t in ticks[i]])
            ax.tick_params(axis='y', left=True, labelleft=True, labelrotation=90,
                           pad=9.9, **tick_kw)
            plt.setp(ax.get_yticklabels(), va='center')
        if j == 5 and i in shown_right:
            ax.set_yticks(ticks[i])
            ax.set_yticklabels([fmt(t, i) if t in shown_right[i] else '' for t in ticks[i]])
            ax.tick_params(axis='y', right=True, labelright=True, left=False,
                           labelleft=False, labelrotation=90, pad=14.8, **tick_kw)
            plt.setp(ax.get_yticklabels(), va='center')

fig.savefig('out.png', dpi=100, facecolor='white')
